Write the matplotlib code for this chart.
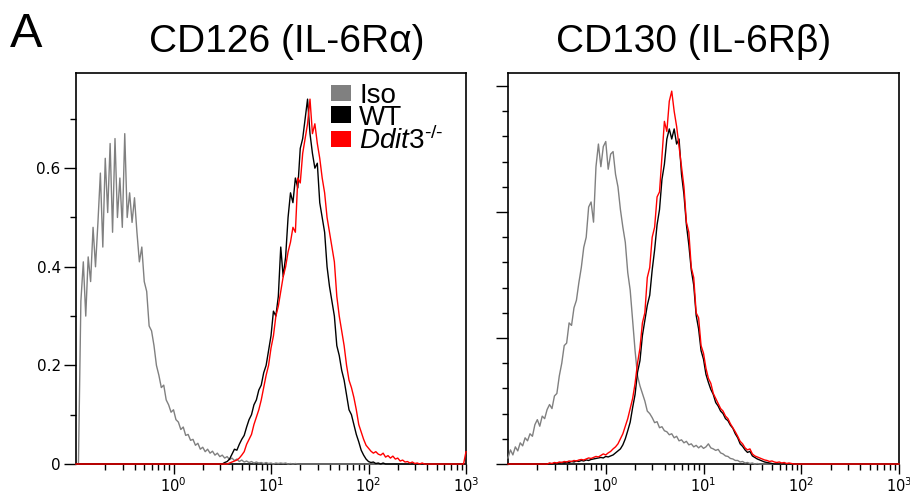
import numpy as np
import matplotlib.pyplot as plt
from matplotlib.patches import Patch
from matplotlib.ticker import LogLocator, MultipleLocator, NullFormatter

plt.rcParams['font.family'] = ['Liberation Sans', 'DejaVu Sans']
plt.rcParams['mathtext.fontset'] = 'custom'
plt.rcParams['mathtext.rm'] = 'Liberation Sans'
plt.rcParams['mathtext.it'] = 'Liberation Sans:italic'

# histogram channels: 40 per decade, 10^-1 .. 10^3
channels = np.logspace(-1, 3, 161)
step = 0.025

titles = ['CD126 (IL-6R\u03b1)', 'CD130 (IL-6R\u03b2)']
labels = ['Iso', 'WT', r'$\mathit{Ddit3}^{\mathit{\text{-/-}}}$']
colors = ['#808080', 'black', '#ff0000']

# CD126 panel (first channel with counts, then counts per channel)
iso_a_start = -0.975
iso_a = [0.0, 0.33, 0.41, 0.30, 0.42, 0.37, 0.48, 0.40, 0.49, 0.59,
         0.44, 0.62, 0.51, 0.65, 0.47, 0.66, 0.50, 0.58, 0.48, 0.67,
         0.50, 0.55, 0.49, 0.54, 0.47, 0.41, 0.44, 0.37, 0.35, 0.28,
         0.27, 0.24, 0.20, 0.18, 0.155, 0.16, 0.13, 0.12, 0.105, 0.11,
         0.09, 0.085, 0.07, 0.075, 0.058, 0.06, 0.048, 0.05, 0.038, 0.042,
         0.03, 0.034, 0.025, 0.03, 0.022, 0.026, 0.018, 0.022, 0.015, 0.018,
         0.012, 0.015, 0.009, 0.012, 0.007, 0.01, 0.005, 0.008, 0.004, 0.006,
         0.003, 0.005, 0.002, 0.004, 0.002, 0.003, 0.001, 0.003, 0.001, 0.002,
         0.0, 0.002, 0.001, 0.002, 0.001, 0.002, 0.0, 0.001, 0.0, 0.001,
         0.0]
wt_a_start = 0.5
wt_a = [0.0, 0.003, 0.005, 0.01, 0.02, 0.03, 0.028, 0.04, 0.05, 0.058,
        0.075, 0.09, 0.10, 0.12, 0.13, 0.15, 0.16, 0.185, 0.20, 0.23,
        0.26, 0.31, 0.30, 0.34, 0.44, 0.38, 0.42, 0.50, 0.55, 0.53,
        0.58, 0.56, 0.64, 0.66, 0.70, 0.74, 0.67, 0.63, 0.60, 0.61,
        0.53, 0.50, 0.47, 0.40, 0.36, 0.33, 0.30, 0.24, 0.22, 0.19,
        0.17, 0.14, 0.11, 0.10, 0.08, 0.06, 0.045, 0.028, 0.018, 0.01,
        0.005, 0.003, 0.004, 0.001, 0.002, 0.0, 0.002, 0.0]
red_a_start = 0.55
red_a = [0.0, 0.002, 0.004, 0.006, 0.008, 0.012, 0.018, 0.025, 0.04, 0.05,
         0.06, 0.08, 0.095, 0.11, 0.13, 0.155, 0.18, 0.20, 0.235, 0.26,
         0.30, 0.32, 0.35, 0.38, 0.40, 0.43, 0.45, 0.48, 0.47, 0.58,
         0.57, 0.63, 0.66, 0.69, 0.74, 0.67, 0.69, 0.65, 0.62, 0.58,
         0.55, 0.50, 0.47, 0.44, 0.41, 0.34, 0.30, 0.27, 0.24, 0.20,
         0.17, 0.155, 0.135, 0.11, 0.08, 0.065, 0.05, 0.038, 0.032, 0.026,
         0.022, 0.025, 0.02, 0.018, 0.022, 0.014, 0.017, 0.012, 0.016, 0.01,
         0.012, 0.006, 0.008, 0.004, 0.005, 0.002, 0.004, 0.001, 0.002, 0.0,
         0.002, 0.0]
red_a_top = 0.025  # off-scale channel at 10^3

# CD130 panel
iso_b_start = -1.0
iso_b = [0.012, 0.028, 0.018, 0.034, 0.026, 0.042, 0.036, 0.052, 0.046, 0.06,
         0.055, 0.078, 0.088, 0.075, 0.095, 0.09, 0.108, 0.118, 0.11, 0.135,
         0.14, 0.175, 0.20, 0.235, 0.24, 0.28, 0.275, 0.31, 0.325, 0.36,
         0.39, 0.43, 0.45, 0.51, 0.52, 0.48, 0.59, 0.635, 0.59, 0.63,
         0.64, 0.585, 0.615, 0.62, 0.575, 0.55, 0.505, 0.47, 0.44, 0.38,
         0.345, 0.285, 0.225, 0.175, 0.155, 0.14, 0.125, 0.105, 0.10, 0.092,
         0.082, 0.084, 0.072, 0.074, 0.066, 0.064, 0.058, 0.06, 0.052, 0.055,
         0.046, 0.048, 0.042, 0.045, 0.038, 0.04, 0.034, 0.037, 0.032, 0.036,
         0.031, 0.034, 0.04, 0.032, 0.03, 0.027, 0.029, 0.022, 0.02, 0.016,
         0.015, 0.011, 0.01, 0.007, 0.007, 0.004, 0.005, 0.002, 0.003, 0.001,
         0.002, 0.0, 0.001, 0.0]
wt_b_start = -0.6
wt_b = [0.0, 0.001, 0.0, 0.002, 0.001, 0.002, 0.003, 0.002, 0.004, 0.003,
        0.005, 0.004, 0.006, 0.005, 0.007, 0.006, 0.008, 0.007, 0.009, 0.01,
        0.011, 0.012, 0.013, 0.012,
        0.015, 0.014, 0.016, 0.018, 0.022, 0.026, 0.03, 0.038,
        0.05, 0.066, 0.083, 0.112, 0.138, 0.182, 0.205, 0.255,
        0.285, 0.315, 0.335, 0.385, 0.425, 0.475, 0.505, 0.565,
        0.595, 0.645, 0.665, 0.645, 0.665, 0.635, 0.645, 0.575,
        0.535, 0.475, 0.435, 0.385, 0.355, 0.295, 0.268, 0.225,
        0.208, 0.178, 0.162, 0.148, 0.138, 0.122, 0.115, 0.105,
        0.10, 0.09, 0.086, 0.077, 0.071, 0.06, 0.052, 0.04,
        0.035, 0.028, 0.023, 0.025, 0.016, 0.013, 0.01, 0.008,
        0.006, 0.004, 0.003, 0.002, 0.001, 0.0]
red_b_start = -0.6
red_b = [0.0, 0.002, 0.001, 0.003, 0.002, 0.004, 0.003, 0.005, 0.004, 0.006,
         0.005, 0.007, 0.006, 0.008, 0.009, 0.008, 0.01, 0.012, 0.011, 0.013,
         0.015, 0.014, 0.017, 0.02,
         0.018, 0.022, 0.025, 0.03, 0.034, 0.04, 0.05, 0.06,
         0.075, 0.09, 0.11, 0.13, 0.16, 0.20, 0.23, 0.28,
         0.30, 0.37, 0.39, 0.45, 0.47, 0.53, 0.54, 0.61,
         0.68, 0.66, 0.72, 0.74, 0.70, 0.67, 0.63, 0.59,
         0.55, 0.48, 0.46, 0.39, 0.37, 0.30, 0.29, 0.235,
         0.22, 0.19, 0.17, 0.16, 0.14, 0.13, 0.12, 0.11,
         0.105, 0.095, 0.09, 0.08, 0.072, 0.064, 0.055, 0.045,
         0.04, 0.032, 0.028, 0.03, 0.02, 0.016, 0.014, 0.012,
         0.01, 0.008, 0.007, 0.005, 0.006, 0.004, 0.003, 0.004,
         0.002, 0.003, 0.001, 0.002, 0.001, 0.0]

xtick_vals = [1, 10, 100, 1000]
ytick_a = [0, 0.2, 0.4, 0.6]
ytick_a_labels = ['0', '0.2', '0.4', '0.6']
ytick_b = [0, 0.25, 0.5, 0.75]


def fill(start, vals):
    y = np.zeros(channels.size)
    i0 = int(round((start + 1) / step))
    y[i0:i0 + len(vals)] = vals
    return y


curves_a = [fill(iso_a_start, iso_a), fill(wt_a_start, wt_a), fill(red_a_start, red_a)]
curves_a[2][-1] = red_a_top
curves_b = [fill(iso_b_start, iso_b), fill(wt_b_start, wt_b), fill(red_b_start, red_b)]

fig = plt.figure(figsize=(9.1, 4.96), dpi=100)
ax1 = fig.add_axes([76 / 910, 32 / 496, 390 / 910, 391 / 496])
ax2 = fig.add_axes([508 / 910, 32 / 496, 391 / 910, 391 / 496])

for ax, curves in [(ax1, curves_a), (ax2, curves_b)]:
    for y, c in zip(curves, colors):
        ax.plot(channels, y, color=c, lw=1.0, zorder=3, clip_on=False)
    ax.set_xscale('log')
    ax.set_xlim(0.1, 1000)
    ax.set_xticks(xtick_vals)
    ax.xaxis.set_minor_locator(LogLocator(base=10, subs=np.arange(2, 10)))
    ax.xaxis.set_minor_formatter(NullFormatter())
    ax.tick_params(axis='both', which='major', direction='out', length=7, width=1,
                   labelsize=10.5, labelfontfamily='DejaVu Sans', pad=1.5)
    ax.tick_params(axis='y', which='major', length=9, labelsize=11, pad=2)
    ax.tick_params(axis='both', which='minor', direction='out', length=4, width=1)
    for s in ax.spines.values():
        s.set_linewidth(1.2)
        s.set_color('black')

ax1.set_ylim(0, 0.793)
ax1.set_yticks(ytick_a, labels=ytick_a_labels)
ax1.yaxis.set_minor_locator(MultipleLocator(0.1))

ax2.set_ylim(0, 0.776)
ax2.set_yticks(ytick_b, labels=[''] * len(ytick_b))
ax2.yaxis.set_minor_locator(MultipleLocator(0.05))

handles = [Patch(facecolor=c, edgecolor='none') for c in colors]
ax1.legend(handles, labels, loc='upper left', bbox_to_anchor=(0.655, 0.975),
           frameon=False, fontsize=20, handlelength=0.7, handleheight=0.55,
           handletextpad=0.3, labelspacing=-0.15, borderpad=0, borderaxespad=0)

fig.text(287 / 910, 1 - 52 / 496, titles[0], ha='center', va='baseline', fontsize=28)
fig.text(694 / 910, 1 - 52 / 496, titles[1], ha='center', va='baseline', fontsize=28)
fig.text(10 / 910, 1 - 47 / 496, 'A', ha='left', va='baseline', fontsize=35)

fig.savefig('out.png', dpi=100)
